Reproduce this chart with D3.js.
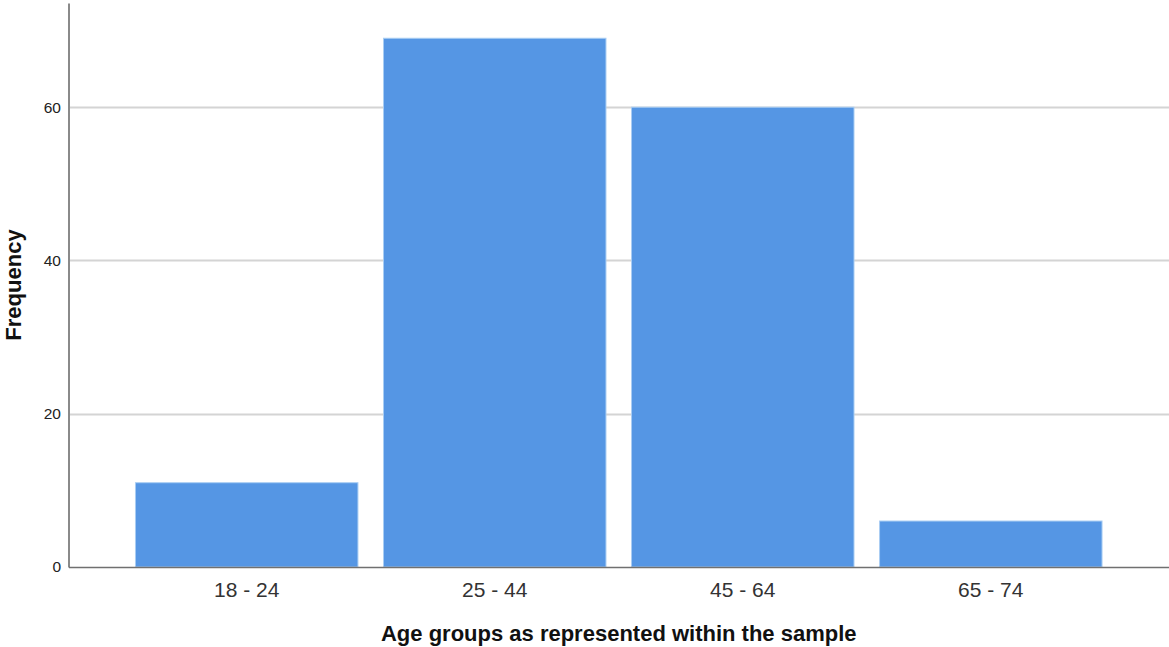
<!DOCTYPE html>
<html><head><meta charset="utf-8">
<script src="https://cdn.jsdelivr.net/npm/d3@7"></script>
<style>body{margin:0;background:#fff}svg{display:block;font-family:"Liberation Sans",Arial,sans-serif}</style>
</head><body>
<svg id="c" width="1169" height="647"></svg>
<script>
const categories = ["18 - 24", "25 - 44", "45 - 64", "65 - 74"];
const frequencies = [11, 69, 60, 6];
const yTicks = [0, 20, 40, 60];
const xTitle = "Age groups as represented within the sample";
const yTitle = "Frequency";

(function () {
const svg = d3.select("#c");
const mLeft = 68.5, mRight = 1169, mTop = 3, mBottom = 567;

const x = d3.scaleBand().domain(categories).range([mLeft, mRight])
  .paddingInner(0.103).paddingOuter(0.27);
const y = d3.scaleLinear().domain([0, 73.6]).range([mBottom, mTop]);

// gridlines
svg.append("g").selectAll("line").data(yTicks.filter(d => d > 0)).join("line")
  .attr("x1", mLeft).attr("x2", mRight)
  .attr("y1", d => Math.round(y(d)) + 0.5).attr("y2", d => Math.round(y(d)) + 0.5)
  .attr("stroke", "#d4d4d4").attr("stroke-width", 2);

// bars
svg.append("g").selectAll("rect").data(categories).join("rect")
  .attr("x", d => x(d)).attr("width", x.bandwidth())
  .attr("y", (d, i) => y(frequencies[i]))
  .attr("height", (d, i) => mBottom - y(frequencies[i]))
  .attr("fill", "#5596e4").attr("stroke", "#a9cdf3").attr("stroke-width", 1);

// y axis
const yAxis = svg.append("g").attr("transform", `translate(${mLeft},0)`)
  .call(d3.axisLeft(y).tickValues(yTicks).tickSize(0).tickPadding(7.5));
yAxis.select(".domain").attr("stroke", "#8a8a8a").attr("stroke-width", 2);
yAxis.selectAll("text").attr("font-size", 15.5).attr("fill", "#222").attr("font-family", "Liberation Sans, Arial, sans-serif");

// x axis
const xAxis = svg.append("g").attr("transform", `translate(0,${mBottom})`)
  .call(d3.axisBottom(x).tickSize(0).tickPadding(15));
xAxis.select(".domain").attr("stroke", "#707070").attr("stroke-width", 1.5);
xAxis.selectAll("text").attr("font-size", 21).attr("fill", "#333").attr("font-family", "Liberation Sans, Arial, sans-serif");

// titles
svg.append("text").attr("x", (mLeft + mRight) / 2).attr("y", 641)
  .attr("text-anchor", "middle").attr("font-weight", "bold").attr("font-size", 22)
  .attr("fill", "#111").text(xTitle);
svg.append("text").attr("transform", "translate(21,285) rotate(-90)")
  .attr("text-anchor", "middle").attr("font-weight", "bold").attr("font-size", 22)
  .attr("fill", "#111").text(yTitle);
})();
</script>
</body></html>
